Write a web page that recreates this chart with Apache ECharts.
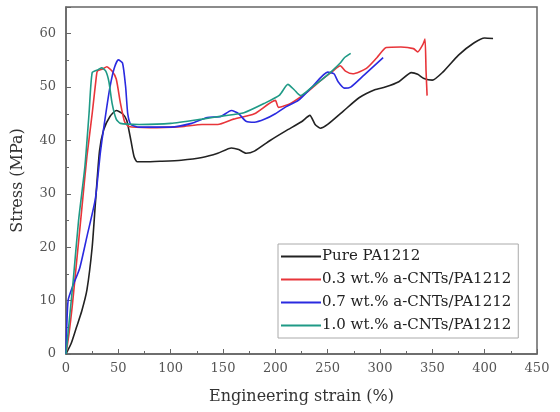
<!DOCTYPE html>
<html>
<head>
<meta charset="utf-8">
<script src="https://cdn.jsdelivr.net/npm/echarts@6/dist/echarts.min.js"></script>
<style>
  html, body { margin: 0; padding: 0; background: #fff; }
  #chart { width: 560px; height: 412px; }
</style>
</head>
<body>
<div id="chart"></div>
<script>
// [strain %, stress MPa]
const pure = [[0,0],[5,2],[10,5],[15,8],[20,12],[25,20],[28,28],[32,38],[36,42],[42,44.5],[48,45.6],[54,45],[58,43.8],[62,40],[65,37],[68,36],[75,36],[90,36.1],[110,36.3],[130,36.8],[145,37.6],[158,38.6],[165,38.3],[172,37.6],[180,38],[195,40],[210,41.8],[225,43.5],[233,44.7],[238,43],[243,42.3],[250,43],[265,45.5],[280,48],[295,49.5],[305,50],[318,51],[330,52.7],[336,52.4],[342,51.6],[350,51.3],[360,52.8],[375,56],[390,58.3],[400,59.2],[408,59.1]]
const cnt03 = [[0,0],[3,4],[6,9],[10,17],[15,27],[20,37],[25,45],[29,52],[30,53],[35,53.4],[39,53.8],[44,53],[48,51.5],[52,47],[56,43.5],[60,42.6],[80,42.4],[110,42.6],[130,43],[145,43],[160,44],[180,45],[200,47.5],[203,46.2],[215,47],[230,49],[245,51.5],[255,53],[262,54],[267,53],[274,52.5],[287,53.5],[297,55.5],[306,57.4],[320,57.5],[332,57.2],[336,56.6],[341,58],[343,59],[344,53],[345,48.4]]
const cnt07 = [[0,0],[2,10],[7,13],[13,16],[20,22],[28,29],[33,38],[38,45],[42,50],[46,53.5],[50,55.1],[54,54.5],[57,50],[59,45],[62,43],[70,42.5],[100,42.5],[120,43.2],[135,44.3],[148,44.5],[158,45.6],[165,45],[172,43.6],[180,43.4],[190,44],[200,45],[210,46.3],[222,47.5],[235,50],[250,52.8],[256,52.5],[260,51],[266,49.8],[272,50],[285,52.3],[303,55.5]]
const cnt10 = [[0,0],[4,8],[7,14],[12,25],[18,35],[22,45],[25,52.7],[30,53.2],[34,53.6],[38,53],[41,51],[44,47],[48,44],[52,43.2],[70,43],[100,43.2],[130,44],[150,44.6],[170,45.2],[190,47],[204,48.5],[212,50.5],[218,49.5],[224,48.4],[235,50],[245,51.5],[254,53],[262,54.5],[266,55.5],[272,56.3]]

const names = ['Pure PA1212', '0.3 wt.% a-CNTs/PA1212', '0.7 wt.% a-CNTs/PA1212', '1.0 wt.% a-CNTs/PA1212']
const colors = ['#222222', '#e8353a', '#2a2ae0', '#1f9a86']
const seriesData = [pure, cnt03, cnt07, cnt10]

const font = '"DejaVu Serif", "Liberation Serif", serif'

const chart = echarts.init(document.getElementById('chart'))
chart.setOption({
  animation: false,
  grid: { left: 66, right: 23, top: 7, bottom: 58, show: true, borderColor: '#666', borderWidth: 1.5 },
  legend: {
    orient: 'vertical',
    left: 278, top: 244,
    icon: 'rect',
    itemWidth: 40, itemHeight: 2, itemGap: 8,
    padding: [5, 7, 5, 3],
    borderColor: '#aaa', borderWidth: 1,
    textStyle: { fontFamily: font, fontSize: 15, color: '#222', padding: [0, 0, 0, -4] },
    data: names
  },
  xAxis: {
    type: 'value', min: 0, max: 450, interval: 50,
    name: 'Engineering strain (%)', nameLocation: 'middle', nameGap: 35,
    nameTextStyle: { fontFamily: font, fontSize: 16, color: '#333' },
    axisLine: { lineStyle: { color: '#666', width: 1.5 } },
    axisTick: { inside: true, length: 5, lineStyle: { color: '#666' } },
    minorTick: { show: true, splitNumber: 2, length: 3, lineStyle: { color: '#666' } },
    axisLabel: { fontFamily: font, fontSize: 13, color: '#555', margin: 8 },
    splitLine: { show: false }
  },
  yAxis: {
    type: 'value', min: 0, max: 65, interval: 10,
    name: 'Stress (MPa)', nameLocation: 'middle', nameGap: 40,
    nameTextStyle: { fontFamily: font, fontSize: 16, color: '#333' },
    axisLine: { show: true, lineStyle: { color: '#666', width: 1.5 } },
    axisTick: { show: true, inside: true, length: 5, lineStyle: { color: '#666' } },
    minorTick: { show: true, splitNumber: 2, length: 3, lineStyle: { color: '#666' } },
    axisLabel: { fontFamily: font, fontSize: 13, color: '#555', margin: 10, showMaxLabel: false },
    splitLine: { show: false }
  },
  series: seriesData.map((d, i) => ({
    name: names[i],
    type: 'line',
    data: d,
    symbol: 'none',
    smooth: 0.2,
    color: colors[i],
    lineStyle: { width: 1.6, color: colors[i] }
  }))
})
</script>
</body>
</html>
